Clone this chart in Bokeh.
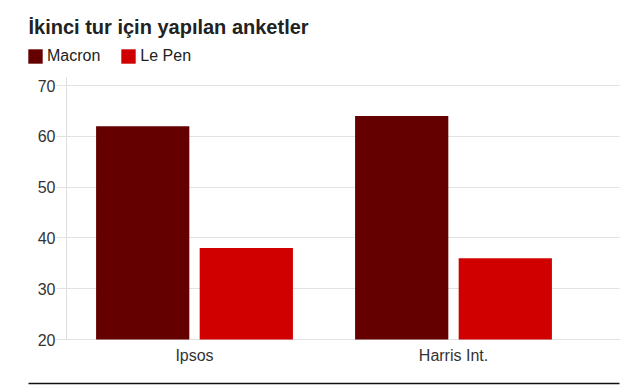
from bokeh.plotting import figure
from bokeh.models import (ColumnDataSource, Legend, LegendItem, Range1d, FixedTicker,
                          LinearAxis, Label)
from bokeh.embed import file_html
from bokeh.resources import INLINE
from bokeh.transform import dodge

title_text = "İkinci tur için yapılan anketler"
pollsters = ["Ipsos", "Harris Int."]
macron = [62, 64]
lepen = [38, 36]
series_names = ["Macron", "Le Pen"]
series_colors = ["#650000", "#d00000"]
y_ticks = [20, 30, 40, 50, 60, 70]

FONT = "Liberation Sans"
W, H = 637, 388
idx = list(range(len(pollsters)))
src = ColumnDataSource(dict(idx=idx, pollster=pollsters, macron=macron, lepen=lepen))

# frame covers the whole canvas; scales chosen so the plot area sits at x 66..619, y 77..339
XS = 259.0          # px per category
X0 = 194.0          # pixel of first category centre
YS = 5.08           # px per percentage point
Y20 = 339.0         # pixel of value 20
def xd(px): return (px - X0) / XS
def yd(py): return 20 + (Y20 - py) / YS

p = figure(width=W, height=H, output_backend="svg", toolbar_location=None,
           x_range=Range1d(xd(0), xd(W)), y_range=Range1d(yd(H), yd(0)),
           x_axis_type=None, y_axis_type=None,
           min_border=0, min_border_left=0, min_border_right=0,
           min_border_top=0, min_border_bottom=0)
p.outline_line_color = None
p.background_fill_color = "white"
p.border_fill_color = "white"
p.xgrid.visible = False
p.ygrid.visible = False

r1 = p.vbar(x=dodge("idx", -0.2), top="macron", bottom=20, width=0.36, source=src,
            fill_color=series_colors[0], line_color=None)
r2 = p.vbar(x=dodge("idx", 0.2), top="lepen", bottom=20, width=0.36, source=src,
            fill_color=series_colors[1], line_color=None)

# y axis with long inward ticks acting as gridlines
yaxis = LinearAxis(fixed_location=xd(66), bounds=(20, yd(77)),
                   ticker=FixedTicker(ticks=y_ticks), level="underlay")
yaxis.axis_line_color = "#dddddd"
yaxis.major_tick_line_color = "#e2e2e2"
yaxis.major_tick_out = 10
yaxis.major_tick_in = 619 - 66
yaxis.minor_tick_line_color = None
yaxis.major_label_text_font = FONT
yaxis.major_label_text_font_size = "16px"
yaxis.major_label_text_color = "#333333"
yaxis.major_label_standoff = 1
p.add_layout(yaxis, "left")

xaxis = LinearAxis(fixed_location=20, bounds=(xd(66), xd(619)),
                   ticker=FixedTicker(ticks=idx), level="underlay")
xaxis.major_label_overrides = {i: n for i, n in zip(idx, pollsters)}
xaxis.axis_line_color = "#dddddd"
xaxis.major_tick_line_color = None
xaxis.minor_tick_line_color = None
xaxis.major_label_text_font = FONT
xaxis.major_label_text_font_size = "16px"
xaxis.major_label_text_color = "#333333"
xaxis.major_label_standoff = 1
p.add_layout(xaxis, "below")

# black rule at the bottom of the graphic
rule = LinearAxis(fixed_location=yd(382.5), bounds=(xd(28), xd(619)),
                  ticker=FixedTicker(ticks=[]))
rule.axis_line_color = "#111111"
rule.axis_line_width = 1.5
rule.major_tick_line_color = None
rule.minor_tick_line_color = None
rule.major_label_text_font_size = "0px"
p.add_layout(rule, "below")

title = Label(x=28, y=H - 26, x_units="screen", y_units="screen", text=title_text,
              text_font=FONT, text_font_size="20px", text_font_style="bold",
              text_color="#222222", text_baseline="alphabetic", text_align="left")
p.add_layout(title)

legend = Legend(items=[LegendItem(label=series_names[0], renderers=[r1]),
                       LegendItem(label=series_names[1], renderers=[r2])],
                orientation="horizontal", location=(26, H - 65),
                label_text_font=FONT, label_text_font_size="16px", label_text_color="#222222",
                glyph_width=18, glyph_height=18, spacing=19, label_standoff=3,
                padding=0, margin=0, border_line_color=None, background_fill_alpha=0)
p.add_layout(legend, "center")

open("out.html", "w").write(file_html(p, INLINE))
